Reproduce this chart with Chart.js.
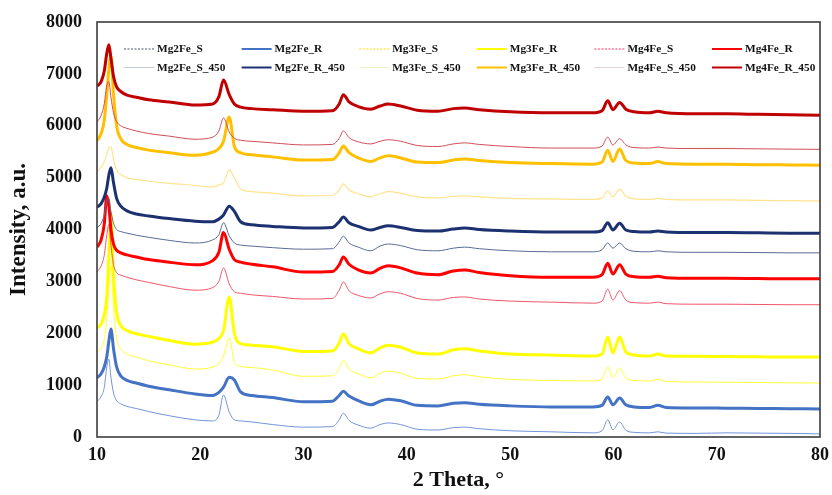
<!DOCTYPE html>
<html>
<head>
<meta charset="utf-8">
<script src="https://cdn.jsdelivr.net/npm/chart.js@4.4.1/dist/chart.umd.min.js"></script>
<style>
    html, body { margin: 0; padding: 0; background: #fff; }
</style>
</head>
<body>
<canvas id="xrdChart" width="832" height="495"></canvas>
<script>
// 2 theta grid the patterns were read on
var twoTheta = [10, 10.4, 10.7, 10.95, 11.15, 11.35, 11.6, 11.9, 12.3, 12.9,
    13.8, 15, 17, 19.5, 21.2, 21.8, 22.25, 22.8, 23.3, 23.9,
    25, 27, 30, 32.8, 33.45, 33.85, 34.4, 35.3, 36.5, 37.4,
    38.2, 39.4, 41, 43, 44.5, 45.6, 47, 50, 54, 58,
    58.9, 59.45, 59.95, 60.6, 61.2, 62, 63.5, 64.3, 65.1, 68,
    71, 74, 77, 80];

var mg2feS = [680, 780, 950, 1350, 1500, 1150, 850, 700, 640, 590,
    550, 490, 410, 330, 310, 420, 810, 480, 330, 310,
    290, 240, 190, 200, 330, 460, 320, 230, 170, 240,
    270, 240, 150, 135, 180, 190, 160, 120, 100, 80,
    120, 330, 140, 290, 130, 90, 80, 100, 75, 70,
    80, 75, 70, 60];
var mg2feR = [1140, 1220, 1350, 1550, 1850, 2080, 1700, 1350, 1180, 1090,
    1040, 980, 910, 830, 800, 860, 960, 1150, 1100, 870,
    800, 760, 680, 690, 800, 880, 790, 700, 620, 690,
    730, 700, 610, 600, 650, 660, 630, 600, 580, 580,
    610, 770, 620, 750, 620, 580, 570, 610, 570, 560,
    555, 550, 545, 540];
var mg3feS = [1640, 1720, 1880, 2300, 2900, 3300, 2500, 1900, 1700, 1600,
    1540, 1470, 1390, 1310, 1350, 1420, 1560, 1910, 1450, 1360,
    1340, 1290, 1170, 1180, 1320, 1480, 1310, 1220, 1140, 1230,
    1270, 1230, 1130, 1120, 1180, 1200, 1160, 1110, 1090, 1080,
    1120, 1350, 1140, 1330, 1140, 1090, 1080, 1110, 1070, 1060,
    1055, 1050, 1045, 1040];
var mg3feR = [2100, 2180, 2350, 2700, 3500, 4300, 3100, 2400, 2150, 2050,
    1990, 1940, 1860, 1790, 1830, 1900, 2050, 2700, 2000, 1800,
    1770, 1740, 1650, 1660, 1810, 1990, 1800, 1700, 1620, 1720,
    1770, 1730, 1620, 1600, 1680, 1700, 1660, 1600, 1580, 1560,
    1600, 1930, 1620, 1930, 1640, 1580, 1560, 1600, 1560, 1555,
    1550, 1545, 1540, 1540];
var mg4feS = [3180, 3300, 3500, 3900, 4100, 3700, 3320, 3170, 3120, 3080,
    3030, 2980, 2900, 2830, 2880, 3000, 3260, 2950, 2800, 2770,
    2740, 2710, 2660, 2670, 2830, 2990, 2820, 2730, 2680, 2760,
    2800, 2770, 2670, 2640, 2690, 2700, 2660, 2620, 2600, 2580,
    2620, 2850, 2640, 2820, 2640, 2590, 2580, 2600, 2570, 2560,
    2560, 2555, 2550, 2550];
var mg4feR = [3660, 3800, 4100, 4650, 4450, 4000, 3720, 3600, 3550, 3510,
    3470, 3420, 3370, 3320, 3400, 3560, 3940, 3620, 3420, 3370,
    3330, 3280, 3180, 3190, 3320, 3470, 3330, 3220, 3160, 3250,
    3300, 3260, 3160, 3130, 3200, 3220, 3170, 3110, 3080, 3080,
    3130, 3350, 3140, 3320, 3140, 3090, 3080, 3100, 3070, 3060,
    3060, 3055, 3050, 3050];
var mg2feS450 = [4030, 4120, 4280, 4550, 4600, 4350, 4120, 4000, 3960, 3930,
    3890, 3850, 3790, 3740, 3800, 3900, 4130, 3880, 3740, 3700,
    3680, 3650, 3620, 3630, 3760, 3870, 3740, 3660, 3590, 3680,
    3720, 3690, 3610, 3590, 3640, 3660, 3630, 3590, 3570, 3570,
    3610, 3740, 3640, 3740, 3630, 3580, 3570, 3590, 3570, 3560,
    3560, 3555, 3550, 3550];
var mg2feR450 = [4430, 4500, 4620, 4800, 5050, 5190, 4900, 4600, 4450, 4360,
    4300, 4260, 4210, 4160, 4150, 4200, 4280, 4450, 4350, 4150,
    4090, 4060, 4030, 4040, 4150, 4240, 4130, 4060, 3990, 4040,
    4070, 4040, 3980, 3970, 4010, 4030, 4000, 3970, 3950, 3950,
    3980, 4130, 3990, 4120, 3990, 3960, 3950, 3970, 3950, 3940,
    3940, 3935, 3930, 3930];
var mg3feS450 = [5110, 5200, 5300, 5450, 5580, 5600, 5350, 5150, 5060, 5000,
    4960, 4930, 4890, 4850, 4820, 4860, 4900, 5150, 5000, 4780,
    4730, 4700, 4650, 4660, 4760, 4880, 4760, 4690, 4630, 4690,
    4730, 4700, 4630, 4610, 4640, 4650, 4630, 4600, 4590, 4580,
    4610, 4740, 4630, 4780, 4640, 4590, 4580, 4600, 4580, 4570,
    4570, 4560, 4555, 4550];
var mg3feR450 = [5710, 5850, 6100, 6600, 7100, 7350, 6600, 6000, 5750, 5640,
    5580, 5530, 5480, 5430, 5490, 5560, 5700, 6170, 5600, 5480,
    5440, 5400, 5340, 5350, 5480, 5610, 5480, 5380, 5310, 5380,
    5420, 5380, 5300, 5290, 5340, 5360, 5330, 5290, 5270, 5260,
    5300, 5530, 5310, 5550, 5330, 5280, 5270, 5310, 5270, 5260,
    5260, 5250, 5245, 5240];
var mg4feS450 = [6070, 6200, 6420, 6780, 6850, 6550, 6250, 6080, 6000, 5950,
    5900, 5850, 5800, 5740, 5780, 5900, 6150, 5880, 5760, 5720,
    5700, 5670, 5630, 5640, 5760, 5900, 5770, 5690, 5650, 5700,
    5730, 5700, 5620, 5600, 5650, 5670, 5640, 5600, 5570, 5570,
    5610, 5780, 5630, 5750, 5630, 5580, 5570, 5590, 5570, 5560,
    5560, 5555, 5550, 5545];
var mg4feR450 = [6760, 6850, 7050, 7400, 7560, 7300, 6950, 6750, 6660, 6590,
    6550, 6500, 6460, 6400, 6420, 6560, 6880, 6600, 6420, 6360,
    6330, 6310, 6280, 6290, 6420, 6600, 6460, 6370, 6320, 6380,
    6420, 6380, 6300, 6280, 6330, 6340, 6310, 6270, 6250, 6250,
    6290, 6480, 6310, 6450, 6320, 6270, 6250, 6280, 6250, 6230,
    6230, 6220, 6210, 6200];

var seriesNames = ['Mg2Fe_S', 'Mg2Fe_R', 'Mg3Fe_S', 'Mg3Fe_R', 'Mg4Fe_S', 'Mg4Fe_R',
    'Mg2Fe_S_450', 'Mg2Fe_R_450', 'Mg3Fe_S_450', 'Mg3Fe_R_450', 'Mg4Fe_S_450', 'Mg4Fe_R_450'];
var seriesData = [mg2feS, mg2feR, mg3feS, mg3feR, mg4feS, mg4feR,
    mg2feS450, mg2feR450, mg3feS450, mg3feR450, mg4feS450, mg4feR450];

var xTicks = [10, 20, 30, 40, 50, 60, 70, 80];
var yTicks = [0, 1000, 2000, 3000, 4000, 5000, 6000, 7000, 8000];

// styles
var lineColors = ['#7394d8', '#4472c4', '#ffff33', '#ffff00', '#f2556a', '#ff0000',
    '#5a6a96', '#1c3170', '#ffe38f', '#ffc000', '#d04c58', '#c00000'];
var legendColors = ['#44546a', '#4472c4', '#ffe000', '#ffff00', '#ff3366', '#ff0000',
    '#c4cad6', '#1c3170', '#f5eec8', '#ffc000', '#e2d4d4', '#c00000'];
var lineWidths = [1, 3, 1, 3, 1, 3, 1, 3, 1.2, 3, 1, 3];
var legendDash = [[2, 1.5], [], [2, 1.5], [], [2, 1.5], [], [], [], [], [], [], []];

var serif = '"Liberation Serif", "Times New Roman", serif';

var datasets = [];
for (var i = 0; i < seriesNames.length; i++) {
    var pts = [];
    for (var j = 0; j < twoTheta.length; j++) {
        pts.push({x: twoTheta[j], y: seriesData[i][j]});
    }
    datasets.push({
        label: seriesNames[i],
        data: pts,
        borderColor: lineColors[i],
        backgroundColor: lineColors[i],
        borderWidth: lineWidths[i],
        pointRadius: 0,
        cubicInterpolationMode: 'monotone',
        fill: false,
        order: seriesNames.length - i
    });
}

// legend laid out in a fixed 6 x 2 grid inside the plot, plus the box frame
var gridLegend = {
    id: 'gridLegend',
    afterDraw: function (chart) {
        var ctx = chart.ctx;
        var area = chart.chartArea;
        ctx.save();
        ctx.strokeStyle = '#3c3c3c';
        ctx.lineWidth = 1.6;
        ctx.strokeRect(area.left, area.top, area.right - area.left, area.bottom - area.top);

        ctx.font = 'bold 11.3px ' + serif;
        ctx.textBaseline = 'middle';
        ctx.textAlign = 'left';
        for (var k = 0; k < seriesNames.length; k++) {
            var col = k % 6;
            var row = Math.floor(k / 6);
            var lx = area.left + 27 + col * 117.6;
            var ly = area.top + 27 + row * 18.5;
            ctx.beginPath();
            ctx.setLineDash(legendDash[k]);
            ctx.strokeStyle = legendColors[k];
            ctx.lineWidth = lineWidths[k] >= 2 ? 2 : 1;
            ctx.moveTo(lx, ly);
            ctx.lineTo(lx + 30, ly);
            ctx.stroke();
            ctx.setLineDash([]);
            ctx.fillStyle = '#111';
            ctx.fillText(seriesNames[k], lx + 33, ly + 0.5);
        }
        ctx.restore();
    }
};

var ctx = document.getElementById('xrdChart');
var xrdChart = new Chart(ctx, {
    type: 'line',
    data: {datasets: datasets},
    options: {
        responsive: false,
        animation: false,
        events: [],
        layout: {autoPadding: false, padding: {top: 22, right: 12, left: 0, bottom: 0}},
        plugins: {
            legend: {display: false},
            tooltip: {enabled: false}
        },
        scales: {
            x: {
                type: 'linear',
                min: 10,
                max: 80,
                afterBuildTicks: function (scale) {
                    scale.ticks = xTicks.map(function (v) { return {value: v}; });
                },
                afterFit: function (scale) {
                    scale.height = 58;
                    scale.paddingLeft = 0;
                    scale.paddingRight = 0;
                },
                grid: {display: false, drawTicks: false},
                border: {display: false},
                ticks: {
                    color: '#111',
                    padding: 8,
                    maxRotation: 0,
                    callback: function (v) { return String(v); },
                    font: {family: serif, size: 18, weight: 'bold'}
                },
                title: {
                    display: true,
                    text: '2 Theta, \u00b0',
                    color: '#111',
                    padding: {top: 0, bottom: 1},
                    font: {family: serif, size: 22, weight: 'bold'}
                }
            },
            y: {
                min: 0,
                max: 8000,
                afterBuildTicks: function (scale) {
                    scale.ticks = yTicks.map(function (v) { return {value: v}; });
                },
                afterFit: function (scale) {
                    scale.width = 97;
                    scale.paddingTop = 0;
                    scale.paddingBottom = 0;
                },
                grid: {display: false, drawTicks: false},
                border: {display: false},
                ticks: {
                    color: '#111',
                    padding: 15,
                    callback: function (v) { return String(v); },
                    font: {family: serif, size: 18, weight: 'bold'}
                },
                title: {
                    display: true,
                    text: 'Intensity, a.u.',
                    color: '#111',
                    padding: {top: 5, bottom: 0},
                    font: {family: serif, size: 23, weight: 'bold'}
                }
            }
        }
    },
    plugins: [gridLegend]
});
</script>
</body>
</html>
